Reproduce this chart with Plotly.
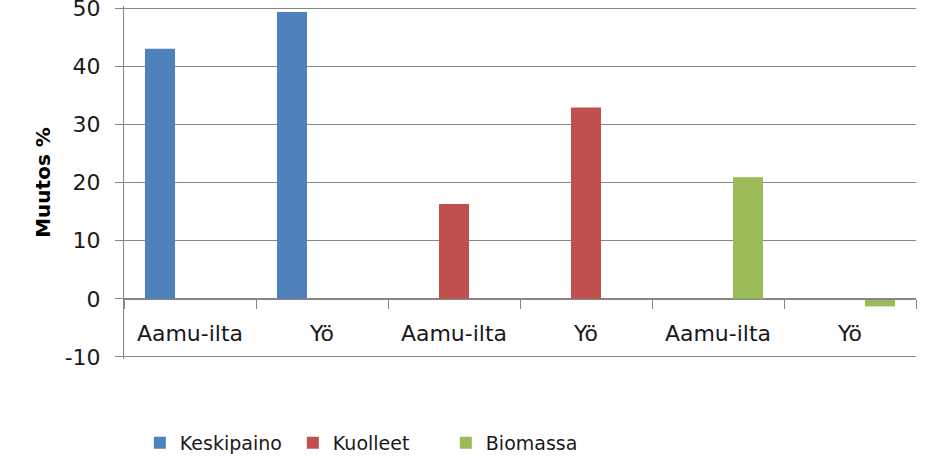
import plotly.graph_objects as go

categories = ["Aamu-ilta", "Yö", "Aamu-ilta", "Yö", "Aamu-ilta", "Yö"]
series_names = ["Keskipaino", "Kuolleet", "Biomassa"]
keskipaino = [43.0, 49.3, None, None, None, None]
kuolleet = [None, None, 16.3, 32.9, None, None]
biomassa = [None, None, None, None, 20.9, -1.3]
colors = ["#4F81BD", "#C0504D", "#9BBB59"]
y_ticks = [-10, 0, 10, 20, 30, 40, 50]
y_tick_labels = ["-10", "0", "10", "20", "30", "40", "50"]

x_ids = [f"c{i}" for i in range(len(categories))]

fig = go.Figure()
for name, vals, col in zip(series_names, [keskipaino, kuolleet, biomassa], colors):
    fig.add_trace(go.Bar(x=x_ids, y=vals, name=name, marker=dict(color=col, line=dict(width=0))))

FONT = "DejaVu Sans"
GRID = "#868686"
Y_MIN, Y_MAX = -10.35, 50.35

fig.update_layout(
    width=939, height=457,
    margin=dict(l=124, r=23, t=6, b=98, autoexpand=False),
    paper_bgcolor="white", plot_bgcolor="white",
    barmode="group", bargap=0.318, bargroupgap=0,
    font=dict(family=FONT, size=19, color="#1a1a1a"),
    showlegend=True,
    legend=dict(orientation="h", x=0.02, xref="paper", yref="container", y=1 - 443 / 457,
                yanchor="middle",
                font=dict(family=FONT, size=19, color="#1a1a1a"),
                itemwidth=30, entrywidth=108, traceorder="normal"),
    xaxis=dict(
        type="category", tickvals=x_ids, ticktext=categories,
        anchor="free", position=(0 - Y_MIN) / (Y_MAX - Y_MIN),
        showline=True, linecolor=GRID, linewidth=1,
        ticks="outside", tickson="boundaries", ticklen=9, tickcolor=GRID,
        showgrid=False, ticklabelstandoff=15,
        tickfont=dict(family=FONT, size=22, color="#1a1a1a"),
        range=[-0.5, 5.5], automargin=False,
    ),
    yaxis=dict(
        range=[Y_MIN, Y_MAX], tickvals=y_ticks, ticktext=y_tick_labels,
        showgrid=True, gridcolor=GRID, gridwidth=1,
        zeroline=False, showline=True, linecolor=GRID, linewidth=1,
        ticks="outside", ticklen=8, tickcolor=GRID, ticklabelstandoff=10,
        ticklabeloverflow="allow",
        tickfont=dict(family=FONT, size=22, color="#1a1a1a"),
        title=dict(text="<b>Muutos %</b>", font=dict(family=FONT, size=20, color="#000000"), standoff=8),
        automargin=False,
    ),
)

fig.write_html("out.html", config={"displayModeBar": False},
               post_script="document.body.style.margin='0';document.body.style.overflow='hidden';")
